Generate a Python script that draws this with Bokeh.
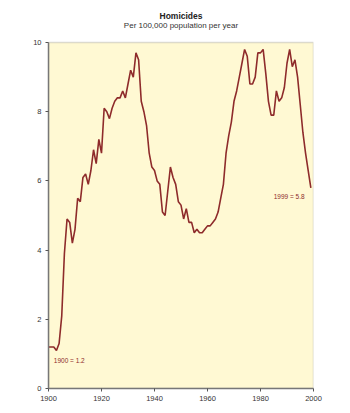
from bokeh.plotting import figure
from bokeh.models import Range1d, Label, BoxAnnotation, FixedTicker
from bokeh.embed import file_html
from bokeh.resources import INLINE

years = list(range(1900, 2000))
rates = [1.2, 1.2, 1.2, 1.1, 1.3, 2.1, 3.9, 4.9, 4.8, 4.2,
         4.6, 5.5, 5.4, 6.1, 6.2, 5.9, 6.3, 6.9, 6.5, 7.2,
         6.8, 8.1, 8.0, 7.8, 8.1, 8.3, 8.4, 8.4, 8.6, 8.4,
         8.8, 9.2, 9.0, 9.7, 9.5, 8.3, 8.0, 7.6, 6.8, 6.4,
         6.3, 6.0, 5.9, 5.1, 5.0, 5.7, 6.4, 6.1, 5.9, 5.4,
         5.3, 4.9, 5.2, 4.8, 4.8, 4.5, 4.6, 4.5, 4.5, 4.6,
         4.7, 4.7, 4.8, 4.9, 5.1, 5.5, 5.9, 6.8, 7.3, 7.7,
         8.3, 8.6, 9.0, 9.4, 9.8, 9.6, 8.8, 8.8, 9.0, 9.7,
         9.7, 9.8, 9.1, 8.3, 7.9, 7.9, 8.6, 8.3, 8.4, 8.7,
         9.4, 9.8, 9.3, 9.5, 9.0, 8.2, 7.4, 6.8, 6.3, 5.8]
x_ticks = [1900, 1920, 1940, 1960, 1980, 2000]
y_ticks = [0, 2, 4, 6, 8, 10]
title_text = "Homicides"
subtitle_text = "Per 100,000 population per year"
start_label = "1900 = 1.2"
end_label = "1999 = 5.8"

LINE = "#8e2b2b"
BG = "#fff9d3"
FONT = "Liberation Sans"

x0, x1 = x_ticks[0], x_ticks[-1]
y0, y1 = y_ticks[0], y_ticks[-1]
HEADROOM = 1.156  # extra range above the panel that holds the heading

p = figure(width=350, height=413, output_backend="svg", toolbar_location=None,
           x_range=Range1d(x0, x1), y_range=Range1d(y0, y1 + HEADROOM),
           min_border_left=48, min_border_right=37, min_border_top=2, min_border_bottom=25,
           background_fill_color="white", border_fill_color="white")
p.outline_line_color = None
p.grid.visible = False

# plot panel (yellow area with grey frame)
p.add_layout(BoxAnnotation(left=x0, right=x1, bottom=y0, top=y1,
                           fill_color=BG, fill_alpha=1.0,
                           line_color="#8a8a8a", line_width=1.5, level="underlay"))

for ax in (p.xaxis[0], p.yaxis[0]):
    ax.axis_line_color = "#777777"
    ax.axis_line_width = 1.5
    ax.major_tick_line_color = "#555555"
    ax.major_tick_in = 0
    ax.major_tick_out = 3
    ax.minor_tick_line_color = None
    ax.major_label_text_font = FONT
    ax.major_label_text_font_size = "7.5px"
    ax.major_label_text_color = "#333333"
    ax.major_label_standoff = 4

p.xaxis.ticker = FixedTicker(ticks=x_ticks)
p.yaxis.ticker = FixedTicker(ticks=y_ticks)
p.yaxis.bounds = (y0, y1)

p.line(years, rates, line_color=LINE, line_width=1.6)

mid = (x0 + x1) / 2
p.add_layout(Label(x=mid, y=y1 + 0.77, text=title_text, text_font=FONT,
                   text_font_size="8.5px", text_font_style="bold", text_color="#222222",
                   text_align="center", text_baseline="alphabetic"))
p.add_layout(Label(x=mid, y=y1 + 0.49, text=subtitle_text, text_font=FONT,
                   text_font_size="8px", text_color="#333333",
                   text_align="center", text_baseline="alphabetic"))

p.add_layout(Label(x=years[0] + 2, y=0.8, text=start_label, text_font=FONT,
                   text_font_size="6.5px", text_color=LINE, text_baseline="middle"))
p.add_layout(Label(x=years[-1] - 14, y=5.55, text=end_label, text_font=FONT,
                   text_font_size="6.5px", text_color=LINE, text_baseline="middle"))

open("out.html", "w").write(file_html(p, INLINE))
